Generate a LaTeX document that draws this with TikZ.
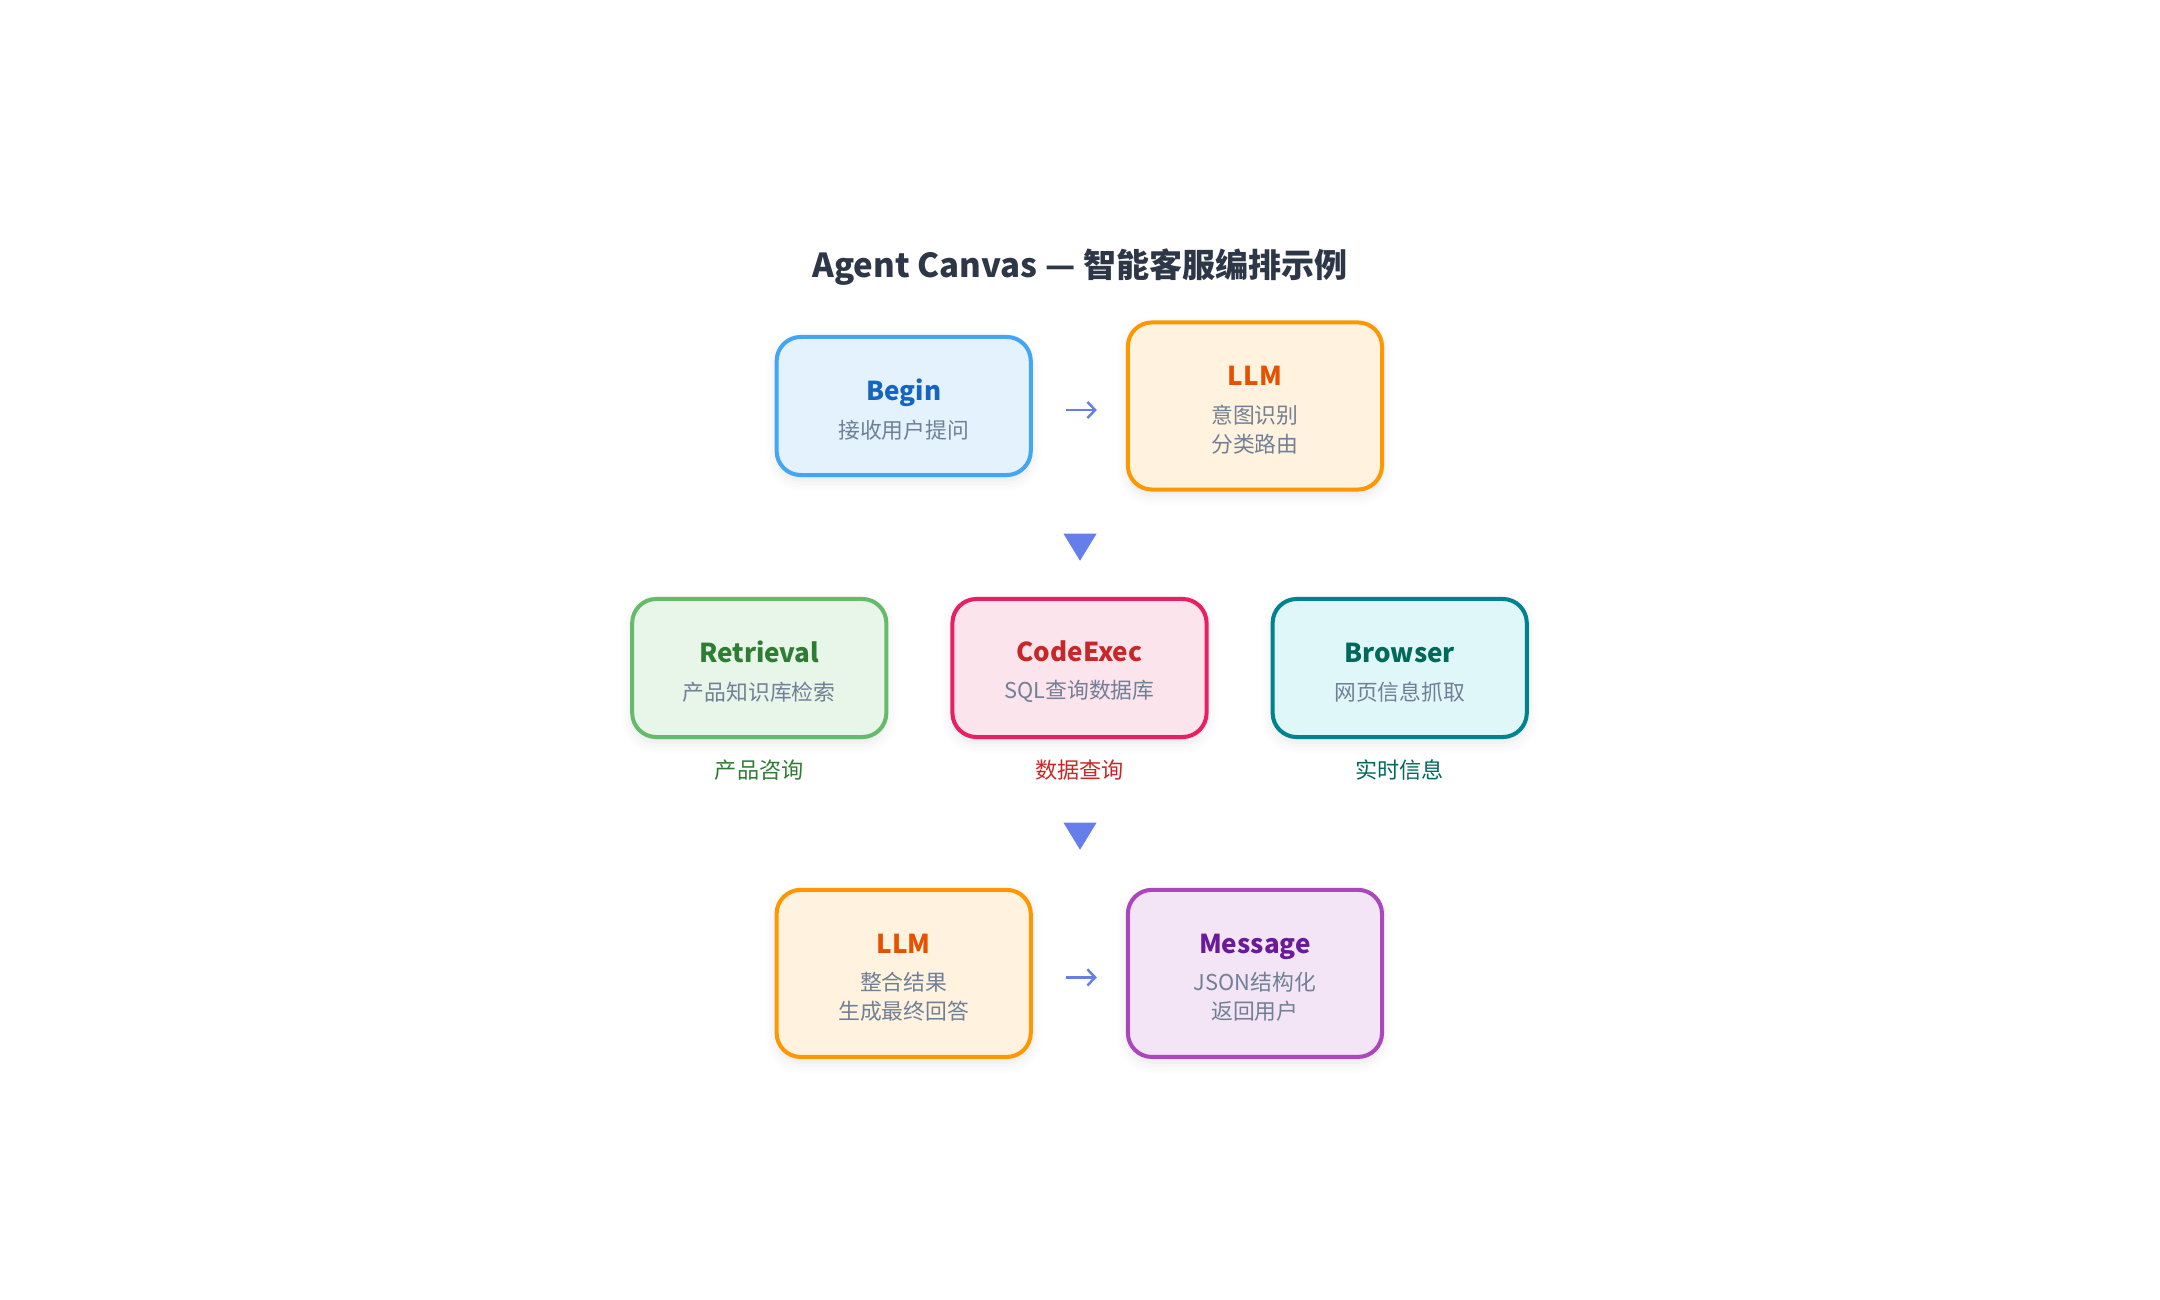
\documentclass[tikz,border=0pt]{standalone}
\usepackage{fontspec}
\setmainfont{Noto Sans CJK SC}
\usetikzlibrary{shapes.geometric, arrows.meta, positioning, shadows.blur}
\definecolor{titlegray}{HTML}{2D3748}
\definecolor{subgray}{HTML}{718096}
\definecolor{flowblue}{HTML}{667EEA}
\definecolor{beginline}{HTML}{42A5F5}
\definecolor{beginfill}{HTML}{E3F2FD}
\definecolor{begintext}{HTML}{1565C0}
\definecolor{llmline}{HTML}{FF9800}
\definecolor{llmfill}{HTML}{FFF3E0}
\definecolor{llmtext}{HTML}{E65100}
\definecolor{retline}{HTML}{66BB6A}
\definecolor{retfill}{HTML}{E8F5E9}
\definecolor{rettext}{HTML}{2E7D32}
\definecolor{codeline}{HTML}{E91E63}
\definecolor{codefill}{HTML}{FCE4EC}
\definecolor{codetext}{HTML}{C62828}
\definecolor{webline}{HTML}{00838F}
\definecolor{webfill}{HTML}{E0F7FA}
\definecolor{webtext}{HTML}{00695C}
\definecolor{msgline}{HTML}{AB47BC}
\definecolor{msgfill}{HTML}{F3E5F5}
\definecolor{msgtext}{HTML}{6A1B9A}
\newcommand{\nodehead}[2]{{\fontsize{7.4}{8.25}\selectfont\bfseries\color{#1}\rule{0pt}{8pt}#2}}

\begin{document}
\begin{tikzpicture}[
        x=0.01cm, y=-0.01cm,
        node distance=0.93cm and 0.93cm,
        box/.style={rectangle, draw, line width=1.15pt, rounded corners=0.24cm, minimum width=2.54cm, minimum height=1.38cm, align=center, text=subgray, font=\fontsize{6.2}{8.25}\selectfont, blur shadow={shadow xshift=0pt, shadow yshift=-1.5pt, shadow blur radius=3pt, shadow opacity=10}},
        tall/.style={minimum height=1.67cm},
        tag/.style={inner sep=0pt, font=\fontsize{6.3}{7.5}\selectfont},
        flow/.style={-{Straight Barb[length=2.2pt, width=4.6pt]}, line width=0.7pt, draw=flowblue},
        tri/.style={isosceles triangle, isosceles triangle stretches, shape border rotate=-90, fill=flowblue, inner sep=0pt, minimum height=0.27cm, minimum width=0.33cm}
    ]
        \useasboundingbox (0,0) rectangle (2160,1300);

        % Title
        \node[font=\fontsize{9.4}{11}\selectfont\bfseries, text=titlegray] (title) at (1080,267) {Agent Canvas — 智能客服编排示例};

        % Nodes
        \node[box, draw=beginline, fill=beginfill] (begin) at (903.7,406) {\nodehead{begintext}{Begin}\\[2.5pt] 接收用户提问};
        \node[box, tall, draw=llmline, fill=llmfill, right=of begin] (intent) {\nodehead{llmtext}{LLM}\\[2.5pt] 意图识别\\ 分类路由};

        \node[tri] (down1) at (1080,543) {};

        \node[box, draw=codeline, fill=codefill] (codeexec) at (1079.5,668) {\nodehead{codetext}{CodeExec}\\[2.5pt] SQL查询数据库};
        \node[box, draw=retline, fill=retfill, left=0.62cm of codeexec] (retrieval) {\nodehead{rettext}{Retrieval}\\[2.5pt] 产品知识库检索};
        \node[box, draw=webline, fill=webfill, right=0.62cm of codeexec] (browser) {\nodehead{webtext}{Browser}\\[2.5pt] 网页信息抓取};

        \node[tag, text=rettext, below=0.2cm of retrieval] (retlabel) {产品咨询};
        \node[tag, text=codetext, below=0.2cm of codeexec] (codelabel) {数据查询};
        \node[tag, text=webtext, below=0.2cm of browser] (weblabel) {实时信息};

        \node[tri] (down2) at (1080,832) {};

        \node[box, tall, draw=llmline, fill=llmfill] (merge) at (903.7,973.4) {\nodehead{llmtext}{LLM}\\[2.5pt] 整合结果\\ 生成最终回答};
        \node[box, tall, draw=msgline, fill=msgfill, right=of merge] (message) {\nodehead{msgtext}{Message}\\[2.5pt] JSON结构化\\ 返回用户};

        % Connections
        \draw[flow, shorten <=0.33cm, shorten >=0.29cm] ([yshift=-0.04cm]begin.east) -- ([yshift=-0.04cm]intent.west);
        \draw[flow, shorten <=0.33cm, shorten >=0.29cm] ([yshift=-0.04cm]merge.east) -- ([yshift=-0.04cm]message.west);
    \end{tikzpicture}
\end{document}
